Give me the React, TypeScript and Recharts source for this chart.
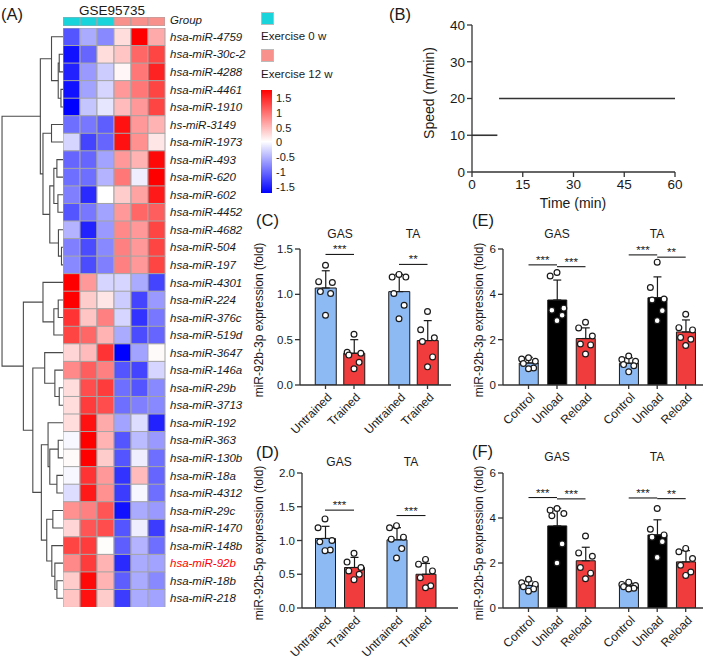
import React from 'react';
import {
  BarChart,
  Bar,
  Cell,
  XAxis,
  YAxis,
  LineChart,
  Line,
  ComposedChart,
  Scatter,
  ErrorBar,
  ReferenceLine,
} from 'recharts';

const FONT = '"Liberation Sans", Arial, Helvetica, sans-serif';
const INK = '#1a1a1a';

// ---------- (A) heatmap ----------
const mirNames = [
  'hsa-miR-4759', 'hsa-miR-30c-2', 'hsa-miR-4288', 'hsa-miR-4461', 'hsa-miR-1910',
  'hs-miR-3149', 'hsa-miR-1973', 'hsa-miR-493', 'hsa-miR-620', 'hsa-miR-602',
  'hsa-miR-4452', 'hsa-miR-4682', 'hsa-miR-504', 'hsa-miR-197', 'hsa-miR-4301',
  'hsa-miR-224', 'hsa-miR-376c', 'hsa-miR-519d', 'hsa-miR-3647', 'hsa-miR-146a',
  'hsa-miR-29b', 'hsa-miR-3713', 'hsa-miR-192', 'hsa-miR-363', 'hsa-miR-130b',
  'hsa-miR-18a', 'hsa-miR-4312', 'hsa-miR-29c', 'hsa-miR-1470', 'hsa-miR-148b',
  'hsa-miR-92b', 'hsa-miR-18b', 'hsa-miR-218',
];
const highlightMir = 'hsa-miR-92b';

const zScores = [
  [-1.0, -0.5, -0.7, 0.2, 1.5, 0.5],
  [-1.4, -0.9, 0.2, 0.35, 0.9, 1.1],
  [-1.3, -0.6, -0.3, 0.05, 0.8, 1.3],
  [-1.4, -0.55, -0.25, 0.6, 0.8, 1.1],
  [-1.6, -0.35, -0.15, 0.4, 0.6, 1.1],
  [-0.85, -0.8, -0.95, 1.4, 0.6, 0.45],
  [-0.25, -1.1, -0.9, 1.4, 0.65, 0.15],
  [-0.9, -0.9, -0.55, 0.6, 0.45, 1.45],
  [-0.85, -0.85, -0.45, 0.8, -0.1, 1.5],
  [-0.75, -1.25, 0.0, 0.3, 0.55, 1.35],
  [-1.0, -0.8, -0.55, 0.6, 0.9, 0.95],
  [-0.45, -1.3, -0.6, 0.7, 0.6, 1.1],
  [-0.75, -1.05, -0.7, 0.75, 0.6, 1.1],
  [-0.7, -1.05, -0.75, 0.75, 0.6, 1.1],
  [1.5, 0.6, -0.25, -0.25, -0.5, -1.1],
  [1.55, 0.3, 0.15, -0.3, -1.1, -0.6],
  [1.2, 0.35, 0.75, -0.25, -1.2, -0.8],
  [1.1, 0.9, 0.45, -0.5, -1.05, -0.9],
  [0.25, 0.4, 1.2, -1.55, -0.55, 0.03],
  [0.7, 0.95, 0.75, -1.0, -1.1, -0.25],
  [0.2, 1.05, 1.15, -0.85, -1.0, -0.7],
  [0.2, 1.15, 1.05, -0.85, -0.75, -0.7],
  [0.2, 1.4, 0.5, -0.55, -0.2, -1.3],
  [-0.05, 1.55, 0.45, -1.0, -0.4, -0.6],
  [0.03, 1.55, 0.3, -1.0, -0.1, -0.85],
  [-0.05, 1.2, 0.6, -1.2, 0.4, -0.9],
  [-0.2, 1.35, 0.65, -1.15, -0.05, -0.85],
  [0.65, 0.75, 1.0, -1.4, -0.5, -0.6],
  [0.25, 1.0, 1.05, -1.0, -0.1, -1.15],
  [1.1, 1.15, 0.02, -0.95, -0.45, -0.85],
  [0.7, 1.15, 0.45, -1.25, -0.5, -0.55],
  [0.3, 1.45, 0.45, -0.95, -0.5, -0.7],
  [0.35, 1.4, 0.3, -1.15, -0.5, -0.55],
];

const sampleGroups = [
  'Exercise 0 w', 'Exercise 0 w', 'Exercise 0 w',
  'Exercise 12 w', 'Exercise 12 w', 'Exercise 12 w',
];
const groupNames = ['Exercise 0 w', 'Exercise 12 w'];
const groupColors: Record<string, string> = {
  'Exercise 0 w': '#1ad4dc',
  'Exercise 12 w': '#f8918c',
};
const colorbarTicks = [1.5, 1, 0.5, 0, -0.5, -1, -1.5];

// row clustering: [child a, child b, merge height]; leaves are 0..32, new nodes from 33
const dendroMerges: [number, number, number][] = [
  [1, 2, 3.7], [3, 4, 2], [33, 34, 4.7], [0, 35, 11.3],
  [5, 6, 11.3], [7, 8, 6], [9, 10, 5], [38, 39, 9],
  [12, 13, 1.5], [11, 41, 4.5], [40, 42, 13], [37, 43, 19.7],
  [36, 44, 22.3],
  [15, 16, 4.7], [17, 46, 9], [14, 47, 19.7],
  [20, 21, 3.7], [19, 49, 8], [18, 50, 18],
  [23, 24, 4.7], [25, 26, 6], [52, 53, 13], [22, 54, 14.7],
  [27, 28, 10], [31, 32, 6], [30, 57, 8], [29, 58, 11],
  [56, 59, 16], [55, 60, 21.3], [51, 61, 29.7], [48, 62, 39],
  [45, 63, 60],
];

// ---------- (B) protocol ----------
const stageStart = [0, 8];
const stageEnd = [7.5, 60];
const stageSpeed = [10, 20];

// ---------- (C)-(F) ----------
const tissues = ['GAS', 'TA'];
const trainCats = ['Untrained', 'Trained'];
const loadCats = ['Control', 'Unload', 'Reload'];

const c3pMean = [1.07, 0.35, 1.03, 0.49];
const c3pSd = [0.19, 0.15, 0.19, 0.22];
const c3pDots = [
  [1.32, 1.14, 1.13, 1.03, 1.01, 0.77],
  [0.56, 0.36, 0.35, 0.33, 0.25, 0.18],
  [1.22, 1.19, 1.19, 1.01, 0.88, 0.73],
  [0.81, 0.61, 0.52, 0.48, 0.31, 0.2],
];

const d5pMean = [1.03, 0.6, 1.01, 0.5];
const d5pSd = [0.18, 0.15, 0.18, 0.16];
const d5pDots = [
  [1.32, 1.19, 1.0, 0.98, 0.86, 0.85],
  [0.81, 0.68, 0.6, 0.55, 0.5, 0.42],
  [1.22, 1.19, 1.05, 1.02, 0.88, 0.74],
  [0.72, 0.65, 0.55, 0.45, 0.33, 0.3],
];

const e3pMean = [0.97, 3.75, 2.05, 0.96, 3.85, 2.34];
const e3pSd = [0.25, 0.88, 0.47, 0.24, 0.92, 0.53];
const e3pDots = [
  [1.2, 1.15, 1.05, 0.95, 0.75, 0.72],
  [4.96, 4.81, 3.39, 3.3, 3.08, 2.84],
  [2.77, 2.52, 2.16, 1.81, 1.77, 1.37],
  [1.28, 1.12, 1.05, 0.9, 0.85, 0.58],
  [5.42, 4.3, 3.79, 3.75, 3.28, 2.84],
  [3.12, 2.53, 2.43, 2.1, 2.02, 1.74],
];

const f5pMean = [1.0, 3.65, 2.1, 0.98, 3.25, 2.05];
const f5pSd = [0.2, 0.78, 0.6, 0.12, 0.67, 0.5];
const f5pDots = [
  [1.28, 1.12, 1.05, 0.95, 0.85, 0.75],
  [4.42, 4.35, 4.2, 4.1, 2.85, 2.0],
  [3.2, 2.45, 2.3, 1.8, 1.55, 1.3],
  [1.15, 1.05, 1.0, 0.95, 0.88, 0.85],
  [4.42, 3.5, 3.25, 3.15, 2.95, 2.25],
  [2.65, 2.5, 2.2, 1.9, 1.6, 1.45],
];

// [bar a, bar b, height, stars]
const cSig: [number, number, number, string][] = [[0, 1, 1.44, '***'], [2, 3, 1.33, '**']];
const dSig: [number, number, number, string][] = [[0, 1, 1.45, '***'], [2, 3, 1.37, '***']];
const eSig: [number, number, number, string][] = [
  [0, 1, 5.3, '***'], [1, 2, 5.22, '***'], [3, 4, 5.74, '***'], [4, 5, 5.64, '**'],
];
const fSig: [number, number, number, string][] = [
  [0, 1, 4.91, '***'], [1, 2, 4.85, '***'], [3, 4, 4.89, '***'], [4, 5, 4.86, '**'],
];

const BLUE = '#8dbaf3';
const RED = '#f03c3c';
const BLACK = '#000000';

function heatColor(z: number) {
  const t = Math.min(Math.abs(z) / 1.5, 1);
  const c = Math.round(255 * (1 - t));
  return z >= 0 ? `rgb(255,${c},${c})` : `rgb(${c},${c},255)`;
}

function Txt({ x, y, size, anchor = 'start', children, style }: any) {
  const tx = anchor === 'middle' ? '-50%' : '0';
  return (
    <div
      style={{
        position: 'absolute',
        left: x,
        top: y,
        fontSize: size,
        lineHeight: 1,
        whiteSpace: 'nowrap',
        transform: `translate(${tx}, -50%)`,
        ...style,
      }}
    >
      {children}
    </div>
  );
}

function VTxt({ x, y, size, children }: any) {
  return (
    <div
      style={{
        position: 'absolute',
        left: x,
        top: y,
        fontSize: size,
        lineHeight: 1,
        whiteSpace: 'nowrap',
        transform: 'translate(-50%, -50%) rotate(-90deg)',
      }}
    >
      {children}
    </div>
  );
}

const MirTick = ({ x, y, payload }: any) => (
  <text
    x={x}
    y={y}
    dy="0.36em"
    textAnchor="start"
    fontSize={11.5}
    fontStyle="italic"
    fontFamily={FONT}
    fill={payload.value === highlightMir ? '#ff0000' : INK}
  >
    {payload.value}
  </text>
);

function Heatmap() {
  const rows = mirNames.map((name) => ({ name, c0: 1, c1: 1, c2: 1, c3: 1, c4: 1, c5: 1 }));
  const groupRow = [{ name: 'Group', c0: 1, c1: 1, c2: 1, c3: 1, c4: 1, c5: 1 }];
  const cols = [0, 1, 2, 3, 4, 5];

  const nodeY: number[] = mirNames.map((_, i) => i);
  const nodeH: number[] = mirNames.map(() => 0);
  const brackets = dendroMerges.map(([a, b, h]) => {
    const seg = [
      { h: nodeH[a], r: nodeY[a] },
      { h, r: nodeY[a] },
      { h, r: nodeY[b] },
      { h: nodeH[b], r: nodeY[b] },
    ];
    nodeY.push((nodeY[a] + nodeY[b]) / 2);
    nodeH.push(h);
    return seg;
  });

  return (
    <>
      <div style={{ position: 'absolute', left: 63, top: 17 }}>
        <BarChart layout="vertical" width={102} height={9} data={groupRow}
          margin={{ top: 0, right: 0, bottom: 0, left: 0 }} barCategoryGap={0}>
          <XAxis type="number" domain={[0, 6]} hide />
          <YAxis type="category" dataKey="name" hide />
          {cols.map((j) => (
            <Bar key={j} dataKey={`c${j}`} stackId="g" isAnimationActive={false}
              stroke="#a5a5a5" strokeWidth={1}>
              <Cell fill={groupColors[sampleGroups[j]]} />
            </Bar>
          ))}
        </BarChart>
      </div>
      <Txt x={170} y={21} size={11.5} style={{ fontStyle: 'italic' }}>{groupRow[0].name}</Txt>
      <div style={{ position: 'absolute', left: 63, top: 28 }}>
        <BarChart layout="vertical" width={190} height={579} data={rows}
          margin={{ top: 0, right: 0, bottom: 0, left: 0 }} barCategoryGap={0}>
          <XAxis type="number" domain={[0, 6]} hide />
          <YAxis type="category" dataKey="name" orientation="right" width={88}
            axisLine={false} tickLine={false} tickSize={0} tickMargin={5}
            tick={<MirTick />} interval={0} />
          {cols.map((j) => (
            <Bar key={j} dataKey={`c${j}`} stackId="h" isAnimationActive={false}
              stroke="#a5a5a5" strokeWidth={1}>
              {rows.map((_, i) => (
                <Cell key={i} fill={heatColor(zScores[i][j])} />
              ))}
            </Bar>
          ))}
        </BarChart>
      </div>
      <div style={{ position: 'absolute', left: 0, top: 28 }}>
        <LineChart width={63} height={579} margin={{ top: 0, right: 0, bottom: 0, left: 0 }}>
          <XAxis type="number" dataKey="h" domain={[0, 62]} reversed hide />
          <YAxis type="number" domain={[-0.5, 32.5]} reversed hide />
          {brackets.map((b, k) => (
            <Line key={k} data={b} dataKey="r" type="linear" stroke="#4a4a4a"
              strokeWidth={1.1} dot={false} isAnimationActive={false} />
          ))}
        </LineChart>
      </div>
      <Txt x={112} y={11} size={13.5} anchor="middle">GSE95735</Txt>
      {groupNames.map((g, i) => (
        <React.Fragment key={g}>
          <div style={{
            position: 'absolute', left: 261, top: 12 + i * 37, width: 13, height: 13,
            background: groupColors[g], border: '1px solid #bbb', boxSizing: 'border-box',
          }} />
          <Txt x={261} y={37 + i * 38} size={11.5}>{g}</Txt>
        </React.Fragment>
      ))}
      <div style={{
        position: 'absolute', left: 261, top: 90, width: 11, height: 103,
        background: 'linear-gradient(to bottom, #ff0000, #ffffff 50%, #0000ff)',
      }} />
      {colorbarTicks.map((t, i) => (
        <Txt key={t} x={276} y={98 + i * 14.8} size={11}>{String(t)}</Txt>
      ))}
    </>
  );
}

function SpeedChart() {
  const stages = stageSpeed.map((s, i) => [
    { t: stageStart[i], s },
    { t: stageEnd[i], s },
  ]);
  return (
    <div style={{ position: 'absolute', left: 420, top: 10 }}>
      <LineChart width={275} height={192} margin={{ top: 15, right: 20, left: 22, bottom: 0 }}>
        <XAxis type="number" dataKey="t" domain={[0, 60]} ticks={[0, 15, 30, 45, 60]}
          stroke="#333" strokeWidth={1.3} tickSize={5} height={30}
          tick={{ fontSize: 13.5, fill: INK, fontFamily: FONT }} />
        <YAxis type="number" domain={[0, 40]} ticks={[0, 10, 20, 30, 40]} width={30}
          stroke="#333" strokeWidth={1.3} tickSize={5}
          tick={{ fontSize: 13.5, fill: INK, fontFamily: FONT }} />
        {stages.map((d, i) => (
          <Line key={i} data={d} dataKey="s" type="linear" stroke="#333" strokeWidth={1.6}
            dot={false} isAnimationActive={false} />
        ))}
      </LineChart>
    </div>
  );
}

const JITTER = [0, -0.24, 0.24, -0.18, 0.18, 0];

function BarPanel({
  plot, yMax, yTicks, yDigits, cats, fills, means, sds, dots, sigs,
  barSize, firstCenter, unit, groupGap,
}: any) {
  const [left, top, right, bottom] = plot;
  const nPer = cats.length;
  const pos = means.map((_: number, k: number) => {
    const g = Math.floor(k / nPer);
    return (firstCenter + k * unit + g * groupGap - left) / unit;
  });
  const xMax = (right - left) / unit;
  const data = means.map((m: number, k: number) => ({ x: pos[k], v: m, err: [0, sds[k]] }));
  const dotData = dots.flatMap((vals: number[], k: number) =>
    vals.map((v, j) => ({ x: pos[k] + JITTER[j % JITTER.length], v })));
  const labels = means.map((_: number, k: number) => cats[k % nPer]);

  const RotTick = ({ x, y, index }: any) => (
    <text x={x + 4} y={y + 4} dy="0.35em" textAnchor="end" fontSize={12} fontFamily={FONT}
      fill={INK} transform={`rotate(-45 ${x + 4} ${y + 4})`}>
      {labels[index]}
    </text>
  );

  return (
    <div style={{ position: 'absolute', left: left - 50, top: top - 12 }}>
      <ComposedChart width={right - left + 56} height={bottom - top + 72} data={data}
        margin={{ top: 12, right: 6, left: 20, bottom: 0 }}>
        <XAxis xAxisId="bars" type="number" dataKey="x" domain={[0, xMax]} ticks={pos} interval={0}
          allowDataOverflow stroke="#333" strokeWidth={1.3} tickSize={4} height={60}
          tick={<RotTick />} />
        <XAxis xAxisId="dots" type="number" dataKey="x" domain={[0, xMax]} allowDataOverflow hide />
        <YAxis type="number" domain={[0, yMax]} ticks={yTicks} width={30} allowDataOverflow
          stroke="#333" strokeWidth={1.3} tickSize={5}
          tickFormatter={(v: number) => v.toFixed(yDigits)}
          tick={{ fontSize: 11.5, fill: INK, fontFamily: FONT }} />
        <Bar xAxisId="bars" dataKey="v" barSize={barSize} isAnimationActive={false}
          stroke={INK} strokeWidth={1}>
          {data.map((_: any, k: number) => (
            <Cell key={k} fill={fills[k % nPer]} />
          ))}
          <ErrorBar dataKey="err" direction="y" width={4} stroke={INK} strokeWidth={1.2} />
        </Bar>
        <Scatter xAxisId="dots" data={dotData} dataKey="v" isAnimationActive={false}
          shape={(p: any) => (
            <circle cx={p.cx} cy={p.cy} r={2.9} fill="#fff" stroke={INK} strokeWidth={1.2} />
          )} />
        {sigs.map(([a, b, y, s]: any, i: number) => (
          <ReferenceLine key={i} xAxisId="bars" segment={[{ x: pos[a], y }, { x: pos[b], y }]}
            stroke={INK} strokeWidth={1.1}
            label={{ value: s, position: 'top', fontSize: 11.5, fill: INK, offset: 1 }} />
        ))}
      </ComposedChart>
    </div>
  );
}

export default function App() {
  return (
    <div style={{
      position: 'absolute', left: 0, top: 0, width: 709, height: 660,
      background: '#fff', fontFamily: FONT, color: INK, overflow: 'hidden',
    }}>
      <Txt x={1} y={14} size={16.5}>(A)</Txt>
      <Heatmap />

      <Txt x={389} y={14} size={16.5}>(B)</Txt>
      <SpeedChart />
      <VTxt x={429} y={93} size={14}>Speed (m/min)</VTxt>
      <Txt x={573} y={203} size={14} anchor="middle">Time (min)</Txt>

      <Txt x={256} y={220} size={16.5}>(C)</Txt>
      <Txt x={340} y={234} size={12} anchor="middle">{tissues[0]}</Txt>
      <Txt x={413} y={234} size={12} anchor="middle">{tissues[1]}</Txt>
      <VTxt x={259} y={320} size={12}>miR-92b-3p expression (fold)</VTxt>
      <BarPanel plot={[300, 249, 451, 385]} yMax={1.5} yTicks={[0, 0.5, 1, 1.5]} yDigits={1}
        cats={trainCats} fills={[BLUE, RED]} means={c3pMean} sds={c3pSd} dots={c3pDots}
        sigs={cSig} barSize={21} firstCenter={325.5} unit={28.5} groupGap={16.5} />

      <Txt x={256} y={452} size={16.5}>(D)</Txt>
      <Txt x={339} y={462} size={12} anchor="middle">{tissues[0]}</Txt>
      <Txt x={411} y={462} size={12} anchor="middle">{tissues[1]}</Txt>
      <VTxt x={259} y={543} size={12}>miR-92b-5p expression (fold)</VTxt>
      <BarPanel plot={[302, 473, 458, 608]} yMax={2} yTicks={[0, 0.5, 1, 1.5, 2]} yDigits={1}
        cats={trainCats} fills={[BLUE, RED]} means={d5pMean} sds={d5pSd} dots={d5pDots}
        sigs={dSig} barSize={20} firstCenter={325} unit={29} groupGap={13.5} />

      <Txt x={472} y={220} size={16.5}>(E)</Txt>
      <Txt x={557} y={234} size={12} anchor="middle">{tissues[0]}</Txt>
      <Txt x={657} y={234} size={12} anchor="middle">{tissues[1]}</Txt>
      <VTxt x={479} y={320} size={12}>miR-92b-3p expression (fold)</VTxt>
      <BarPanel plot={[503, 249, 703, 385]} yMax={6} yTicks={[0, 2, 4, 6]} yDigits={0}
        cats={loadCats} fills={[BLUE, BLACK, RED]} means={e3pMean} sds={e3pSd} dots={e3pDots}
        sigs={eSig} barSize={19} firstCenter={528.5} unit={28.5} groupGap={14.7} />

      <Txt x={472} y={451} size={16.5}>(F)</Txt>
      <Txt x={557} y={457} size={12} anchor="middle">{tissues[0]}</Txt>
      <Txt x={657} y={457} size={12} anchor="middle">{tissues[1]}</Txt>
      <VTxt x={479} y={543} size={12}>miR-92b-5p expression (fold)</VTxt>
      <BarPanel plot={[503, 473, 703, 608]} yMax={6} yTicks={[0, 2, 4, 6]} yDigits={0}
        cats={loadCats} fills={[BLUE, BLACK, RED]} means={f5pMean} sds={f5pSd} dots={f5pDots}
        sigs={fSig} barSize={19} firstCenter={528.5} unit={28.5} groupGap={14.7} />
    </div>
  );
}
